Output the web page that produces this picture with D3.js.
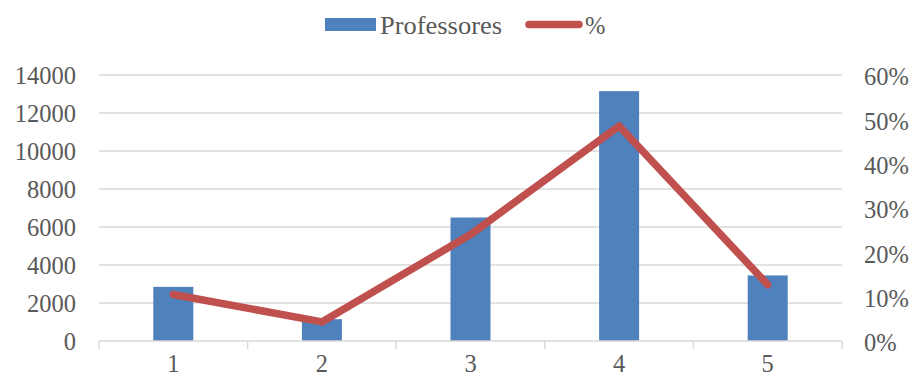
<!DOCTYPE html>
<html><head><meta charset="utf-8">
<script src="https://cdn.jsdelivr.net/npm/d3@7"></script>
<style>body{margin:0;background:#fff}svg{display:block}</style>
</head><body><svg id="c" width="914" height="380"></svg>
<script>
const categories = ["1","2","3","4","5"];
const professores = [2850, 1150, 6500, 13150, 3450];
const percent = [0.105, 0.043, 0.24, 0.485, 0.127];
const leftTicks = [0,2000,4000,6000,8000,10000,12000,14000];
const rightTicks = [0,0.1,0.2,0.3,0.4,0.5,0.6];
const seriesNames = ["Professores","%"];

const svg = d3.select("#c");
const font = "'Liberation Serif', 'Times New Roman', serif";
const txt = "#595959", grid = "#d9d9d9", blue = "#4f81bd", red = "#c0504d";
const L = 99, R = 842, T = 75, B = 341;

const x = d3.scaleBand().domain(categories).range([L, R]).paddingInner(0);
const yL = d3.scaleLinear().domain([0,14000]).range([B, T]);
const yR = d3.scaleLinear().domain([0,0.6]).range([B, T]);

// gridlines
svg.append("g").selectAll("line").data(leftTicks.slice(1)).join("line")
  .attr("x1", L).attr("x2", R).attr("y1", d=>yL(d)).attr("y2", d=>yL(d))
  .attr("stroke", grid).attr("stroke-width", 1.5);

// bars
const bw = 40;
svg.append("g").selectAll("rect").data(professores).join("rect")
  .attr("x", (d,i)=>x(categories[i]) + x.bandwidth()/2 - bw/2)
  .attr("width", bw)
  .attr("y", d=>yL(d)).attr("height", d=>B - yL(d))
  .attr("fill", blue);

// x axis line and ticks
svg.append("line").attr("x1", L).attr("x2", R).attr("y1", B).attr("y2", B)
  .attr("stroke", grid).attr("stroke-width", 1.5);
const bounds = categories.map(c=>x(c)).concat([R]);
svg.append("g").selectAll("line").data(bounds).join("line")
  .attr("x1", d=>d).attr("x2", d=>d).attr("y1", B).attr("y2", B+8)
  .attr("stroke", grid).attr("stroke-width", 1.5);

// line
const line = d3.line().x((d,i)=>x(categories[i]) + x.bandwidth()/2).y(d=>yR(d));
svg.append("path").datum(percent).attr("d", line)
  .attr("fill","none").attr("stroke", red).attr("stroke-width", 7.5)
  .attr("stroke-linejoin","round").attr("stroke-linecap","round");

// left axis labels
svg.append("g").selectAll("text").data(leftTicks).join("text")
  .attr("x", 76).attr("y", d=>yL(d)).attr("dy","0.36em")
  .attr("text-anchor","end").attr("font-family", font).attr("font-size", 24.5)
  .attr("fill", txt).text(d=>d);

// right axis labels
svg.append("g").selectAll("text").data(rightTicks).join("text")
  .attr("x", 864).attr("y", d=>yR(d)).attr("dy","0.42em")
  .attr("text-anchor","start").attr("font-family", font).attr("font-size", 24.5)
  .attr("fill", txt).text(d=>d3.format(".0%")(d));

// x labels
svg.append("g").selectAll("text").data(categories).join("text")
  .attr("x", d=>x(d)+x.bandwidth()/2).attr("y", 372)
  .attr("text-anchor","middle").attr("font-family", font).attr("font-size", 24.5)
  .attr("fill", txt).text(d=>d);

// legend
const lg = svg.append("g");
lg.append("rect").attr("x",325).attr("y",18).attr("width",51).attr("height",13).attr("fill",blue);
lg.append("text").attr("x",380).attr("y",34).attr("font-family",font).attr("font-size",24.5)
  .attr("fill",txt).attr("textLength",122).attr("lengthAdjust","spacingAndGlyphs").text(seriesNames[0]);
lg.append("line").attr("x1",529).attr("x2",579).attr("y1",24.5).attr("y2",24.5)
  .attr("stroke",red).attr("stroke-width",7.5).attr("stroke-linecap","round");
lg.append("text").attr("x",585).attr("y",34).attr("font-family",font).attr("font-size",24.5)
  .attr("fill",txt).text(seriesNames[1]);
</script></body></html>
